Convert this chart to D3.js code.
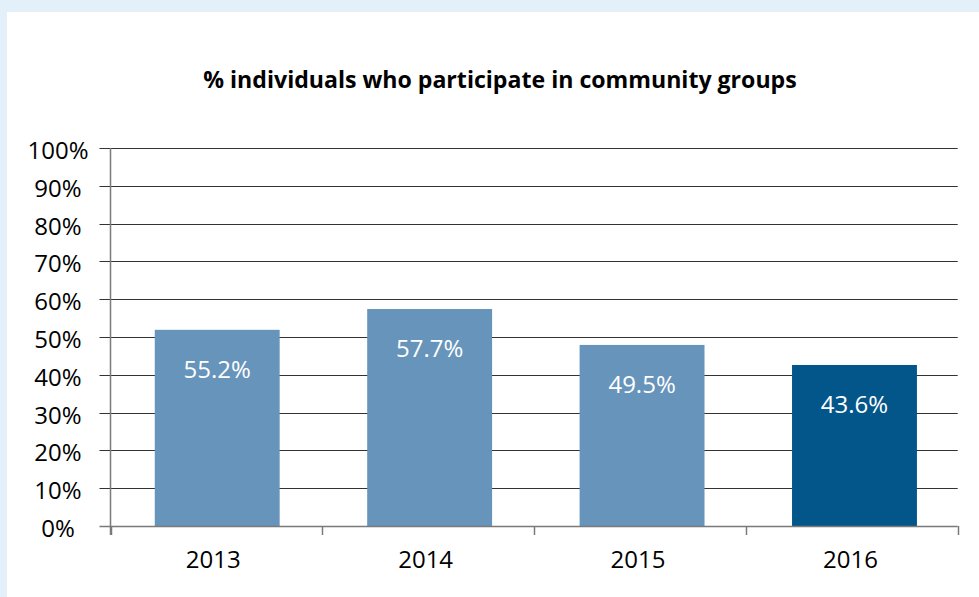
<!DOCTYPE html>
<html>
<head>
<meta charset="utf-8">
<script src="https://cdn.jsdelivr.net/npm/d3@7"></script>
<style>
  html, body { margin: 0; padding: 0; background: #e3f0fa; }
  svg { display: block; }
</style>
</head>
<body>
<svg id="chart" width="979" height="597"></svg>
<script>
const title = "% individuals who participate in community groups";
const years = ["2013", "2014", "2015", "2016"];
const barValues = [51.9, 57.4, 47.9, 42.6];
const barLabels = ["55.2%", "57.7%", "49.5%", "43.6%"];
const yTicks = [0, 10, 20, 30, 40, 50, 60, 70, 80, 90, 100];
const highlightYear = "2016";

(function () {
const svg = d3.select("#chart");
const W = 979, H = 597;
const font = "'Open Sans', 'Noto Sans', sans-serif";

// background & panel
svg.append("rect").attr("x", 0).attr("y", 0).attr("width", W).attr("height", H).attr("fill", "#e3f0fa");
svg.append("rect").attr("x", 7).attr("y", 12).attr("width", W - 7).attr("height", H - 12).attr("fill", "#ffffff");

const pLeft = 110.5, pRight = 957.7, pTop = 148, pBottom = 526;

const x = d3.scaleBand().domain(years).range([pLeft + 0.5, pRight + 3]).paddingInner(0.412).paddingOuter(0.206);
const y = d3.scaleLinear().domain([0, 100]).range([pBottom, pTop]);
const boundary = d3.scaleLinear().domain([0, years.length]).range([pLeft, pRight]);

// gridlines + y ticks
const grid = svg.append("g");
yTicks.forEach(t => {
  const yy = Math.round(y(t)) + 0.5;
  if (t !== 0) {
    grid.append("line").attr("x1", pLeft - 11).attr("x2", pRight).attr("y1", yy).attr("y2", yy)
      .attr("stroke", "#333333").attr("stroke-width", 1.1);
  }
  grid.append("text").attr("x", 58).attr("y", y(t) + 11)
    .attr("text-anchor", "middle").attr("font-family", font).attr("font-size", 24)
    .attr("fill", "#000").text(t + "%");
});

// bars
svg.append("g").selectAll("rect").data(years).join("rect")
  .attr("x", d => x(d))
  .attr("width", x.bandwidth())
  .attr("y", (d, i) => y(barValues[i]))
  .attr("height", (d, i) => pBottom - y(barValues[i]))
  .attr("fill", d => d === highlightYear ? "#03568a" : "#6794bb");

// bar labels
svg.append("g").selectAll("text").data(years).join("text")
  .attr("x", d => x(d) + x.bandwidth() / 2)
  .attr("y", (d, i) => y(barValues[i]) + 48)
  .attr("text-anchor", "middle").attr("font-family", font).attr("font-size", 24)
  .attr("fill", "#ffffff")
  .text((d, i) => barLabels[i]);

// axes lines
const axisColor = "#7a7a7a";
svg.append("line").attr("x1", pLeft - 11).attr("x2", pRight).attr("y1", pBottom + 0.5).attr("y2", pBottom + 0.5)
  .attr("stroke", axisColor).attr("stroke-width", 1.5);
svg.append("line").attr("x1", pLeft).attr("x2", pLeft).attr("y1", pTop).attr("y2", pBottom + 9)
  .attr("stroke", axisColor).attr("stroke-width", 1.5);

// category boundary ticks
d3.range(years.length + 1).forEach(i => {
  const xx = Math.round(boundary(i)) + 0.5;
  svg.append("line").attr("x1", xx).attr("x2", xx).attr("y1", pBottom).attr("y2", pBottom + 9)
    .attr("stroke", axisColor).attr("stroke-width", 1.5);
});

// x labels
svg.append("g").selectAll("text").data(years).join("text")
  .attr("x", d => x(d) + x.bandwidth() / 2 - 4)
  .attr("y", 568)
  .attr("text-anchor", "middle").attr("font-family", font).attr("font-size", 24)
  .attr("fill", "#000").text(d => d);

// title
const tt = svg.append("text").attr("x", 500).attr("y", 88)
  .attr("text-anchor", "middle").attr("font-family", font).attr("font-weight", 700)
  .attr("font-size", 20).attr("fill", "#000").text(title);
const w = tt.node().getComputedTextLength();
tt.attr("font-size", 20 * 594 / w);
})();
</script>
</body>
</html>
